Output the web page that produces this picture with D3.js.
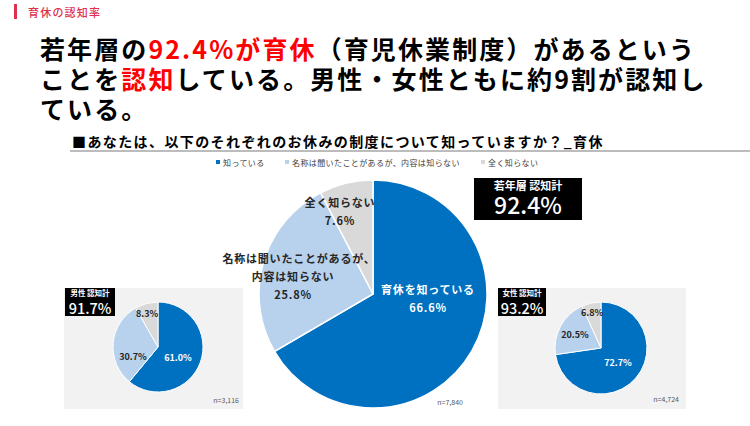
<!DOCTYPE html>
<html><head><meta charset="utf-8">
<script src="https://cdn.jsdelivr.net/npm/d3@7"></script>
<style>
html,body{margin:0;padding:0;background:#fff;}
svg{display:block;font-family:"Noto Sans CJK JP","Noto Sans",sans-serif;}
</style></head><body>
<svg id="c" width="750" height="426"></svg>
<script>
// ---- data ----
const categories = ["知っている", "名称は聞いたことがあるが、内容は知らない", "全く知らない"];
const youthValues = [66.6, 25.8, 7.6];
const maleValues = [61.0, 30.7, 8.3];
const femaleValues = [72.7, 20.5, 6.8];
const totals = { youth: "92.4%", male: "91.7%", female: "93.2%" };
const sampleSizes = ["n=3,116", "n=7,840", "n=4,724"];
const colors = ["#0070c0", "#b8d1ec", "#d9d9d9"];

const svg = d3.select("#c");

// header tag
svg.append("rect").attr("x", 14).attr("y", 4).attr("width", 3).attr("height", 15).attr("fill", "#e0304e");
svg.append("text").attr("x", 28).attr("y", 17).attr("font-size", 11).attr("letter-spacing", 1.2)
  .attr("fill", "#e0304e").attr("font-weight", 500).text("育休の認知率");

// title
const titleLines = [
  [["若年層の", "#000"], ["92.4%が育休", "#ff0000"], ["（育児休業制度）があるという", "#000"]],
  [["ことを", "#000"], ["認知", "#ff0000"], ["している。男性・女性ともに約9割が認知し", "#000"]],
  [["ている。", "#000"]]
];
titleLines.forEach((line, i) => {
  const t = svg.append("text").attr("x", 40).attr("y", 59 + i * 30)
    .attr("font-size", 25).attr("font-weight", 700).attr("letter-spacing", 2.1);
  line.forEach(([s, c]) => t.append("tspan").attr("fill", c).text(s));
});

// subheading
svg.append("text").attr("x", 72).attr("y", 147).attr("font-size", 14).attr("font-weight", 700)
  .attr("letter-spacing", 1.4).attr("fill", "#000")
  .text("■あなたは、以下のそれぞれのお休みの制度について知っていますか？_育休");
svg.append("line").attr("x1", 70).attr("x2", 750).attr("y1", 151).attr("y2", 151)
  .attr("stroke", "#a6a6a6").attr("stroke-width", 1.5);

// legend
const legendX = [216, 285, 481];
categories.forEach((c, i) => {
  const g = svg.append("g").attr("transform", `translate(${legendX[i]},163)`);
  g.append("rect").attr("x", 0).attr("y", -3).attr("width", 4).attr("height", 4).attr("fill", colors[i]);
  g.append("text").attr("x", 7).attr("y", 2.5).attr("font-size", 8).attr("letter-spacing", 0.4)
    .attr("fill", "#404040").text(c);
});

const pie = d3.pie().sort(null).value(d => d);

function drawPie(values, cx, cy, r, sw) {
  const arc = d3.arc().innerRadius(0).outerRadius(r);
  const g = svg.append("g").attr("transform", `translate(${cx},${cy})`);
  g.selectAll("path").data(pie(values)).join("path")
    .attr("d", arc).attr("fill", (d, i) => colors[i])
    .attr("stroke", "#fff").attr("stroke-width", sw);
  return g;
}

// side panels
function panel(x, y, w, h) {
  svg.append("rect").attr("x", x).attr("y", y).attr("width", w).attr("height", h).attr("fill", "#f2f2f2");
}
panel(64, 288, 179, 121);
panel(498, 288, 188, 121);

function totalBox(x, y, w, h, label, value, fs1, fs2, y1, y2) {
  svg.append("rect").attr("x", x).attr("y", y).attr("width", w).attr("height", h).attr("fill", "#000");
  svg.append("text").attr("x", x + w / 2).attr("y", y1).attr("text-anchor", "middle")
    .attr("font-size", fs1).attr("font-weight", 700).attr("fill", "#fff").text(label);
  svg.append("text").attr("x", x + w / 2).attr("y", y2).attr("text-anchor", "middle")
    .attr("font-size", fs2).attr("font-weight", 500).attr("fill", "#fff").text(value);
}

// big pie
const big = drawPie(youthValues, 373, 294, 114, 1.5);
const bigLabels = [
  { lines: ["育休を知っている", youthValues[0].toFixed(1) + "%"], dx: [0, 0], x: 55, y: 0, fill: "#fff" },
  { lines: ["名称は聞いたことがあるが、", "内容は知らない", youthValues[1].toFixed(1) + "%"], dx: [6, 0, 0], x: -80, y: -31, fill: "#262626" },
  { lines: ["全く知らない", youthValues[2].toFixed(1) + "%"], dx: [0, 0], x: -33, y: -87, fill: "#262626" }
];
bigLabels.forEach(l => {
  const t = big.append("text").attr("text-anchor", "middle").attr("font-size", 11)
    .attr("font-weight", 700).attr("fill", l.fill).attr("letter-spacing", 0.8);
  l.lines.forEach((s, j) => t.append("tspan").attr("x", l.x + l.dx[j]).attr("y", l.y + j * 18).text(s));
});
totalBox(474, 178, 108, 42, "若年層 認知計", totals.youth, 11, 23, 190, 214);

// male pie
const male = drawPie(maleValues, 158, 347, 45, 1);
const maleLbl = [[20, 14, "#fff"], [-25, 13, "#262626"], [-11, -30, "#262626"]];
maleValues.forEach((v, i) => male.append("text").attr("x", maleLbl[i][0]).attr("y", maleLbl[i][1])
  .attr("text-anchor", "middle").attr("font-size", 9).attr("font-weight", 700)
  .attr("fill", maleLbl[i][2]).text(v.toFixed(1) + "%"));
totalBox(65, 288, 50, 28, "男性 認知計", totals.male, 7.5, 14.5, 295.5, 314);

// female pie
const female = drawPie(femaleValues, 601, 348, 46, 1);
const femLbl = [[17, 18, "#fff"], [-26, -10, "#262626"], [-9, -32, "#262626"]];
femaleValues.forEach((v, i) => female.append("text").attr("x", femLbl[i][0]).attr("y", femLbl[i][1])
  .attr("text-anchor", "middle").attr("font-size", 9).attr("font-weight", 700)
  .attr("fill", femLbl[i][2]).text(v.toFixed(1) + "%"));
totalBox(498, 288, 48, 28, "女性 認知計", totals.female, 7.5, 14.5, 295.5, 314);

// sample sizes
const nPos = [[239, 403], [463, 405], [679, 402]];
sampleSizes.forEach((s, i) => svg.append("text").attr("x", nPos[i][0]).attr("y", nPos[i][1])
  .attr("text-anchor", "end").attr("font-size", 7).attr("fill", "#595959").text(s));
</script>
</body></html>
